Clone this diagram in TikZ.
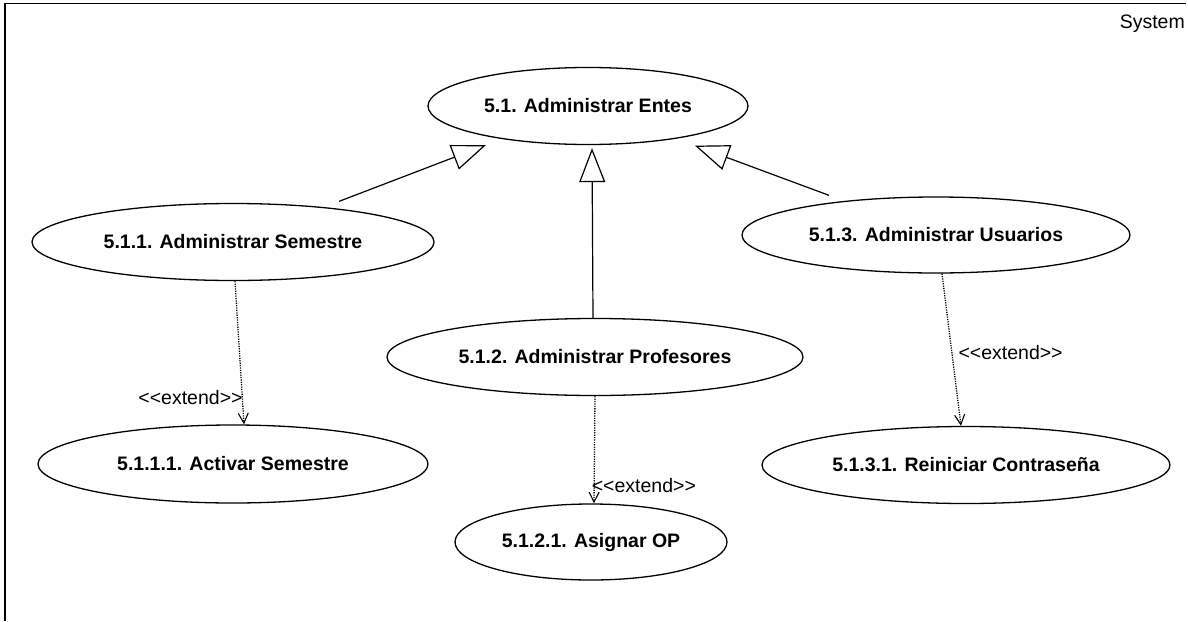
\documentclass[tikz,border=0pt]{standalone}
\usepackage{fontspec}
\setmainfont{Liberation Sans}
\usetikzlibrary{arrows.meta,shapes.geometric,calc}
\tikzset{
  uc/.style={draw, line width=1.3pt, ellipse, inner sep=0pt, font=\fontsize{19.5}{22}\selectfont\bfseries},
  gen/.style={line width=1.2pt, -{Triangle[open, length=34pt, width=26pt, fill=white]}},
  ext/.style={line width=1.3pt, dash pattern=on 1.2pt off 1.2pt, -{Straight Barb[length=10pt, width=10pt, line width=1.1pt]}},
  lbl/.style={font=\fontsize{19.5}{21}\selectfont, inner sep=0pt},
  frame/.style={line width=1.5pt}
}
\newcommand{\extlbl}{{<}{<}extend{>}{>}}
\begin{document}
\begin{tikzpicture}[x=1pt,y=-1pt]
\useasboundingbox (0,0) rectangle (1188,621);
\draw[frame] (1186,3.5) -- (5,3.5) -- (5,621);
\node[lbl, anchor=east] (sys) at (1185,24) {System};

\node[uc, minimum width=320pt, minimum height=77pt] (E0) at (588,106) {5.1. Administrar Entes};
\node[uc, minimum width=402pt, minimum height=77pt] (E1) at (233,242) {5.1.1. Administrar Semestre};
\node[uc, minimum width=416pt, minimum height=77pt] (E2) at (595,357) {5.1.2. Administrar Profesores};
\node[uc, minimum width=388pt, minimum height=76pt] (E3) at (936,235) {5.1.3. Administrar Usuarios};
\node[uc, minimum width=390pt, minimum height=78pt] (E11) at (233,464) {5.1.1.1. Activar Semestre};
\node[uc, minimum width=272pt, minimum height=76pt] (E21) at (591,542) {5.1.2.1. Asignar OP};
\node[uc, minimum width=408pt, minimum height=77pt] (E31) at (966,465) {5.1.3.1. Reiniciar Contraseña};

\draw[gen, shorten <=16pt, shorten >=17pt] (E1) -- (E0);
\draw[gen, shorten >=3pt] ($(E2.north)+(-2pt,0)$) -- ($(E0.south)+(4pt,0)$);
\draw[gen, shorten <=16pt, shorten >=20pt] (E3) -- (E0);

\draw[ext] ($(E1.south)+(2pt,0)$) -- ($(E11.north)+(11pt,0)$) node[lbl, pos=0.80, anchor=east, xshift=1pt, yshift=-2pt] (l1) {\extlbl};
\draw[ext] (E2.south) -- ($(E21.north)+(3pt,0)$) node[lbl, pos=0.83, anchor=west, xshift=-3pt] (l2) {\extlbl};
\draw[ext] ($(E3.south)+(6pt,0)$) -- ($(E31.north)+(-5pt,0)$) node[lbl, pos=0.52, anchor=west, xshift=6pt] (l3) {\extlbl};
\end{tikzpicture}
\end{document}
